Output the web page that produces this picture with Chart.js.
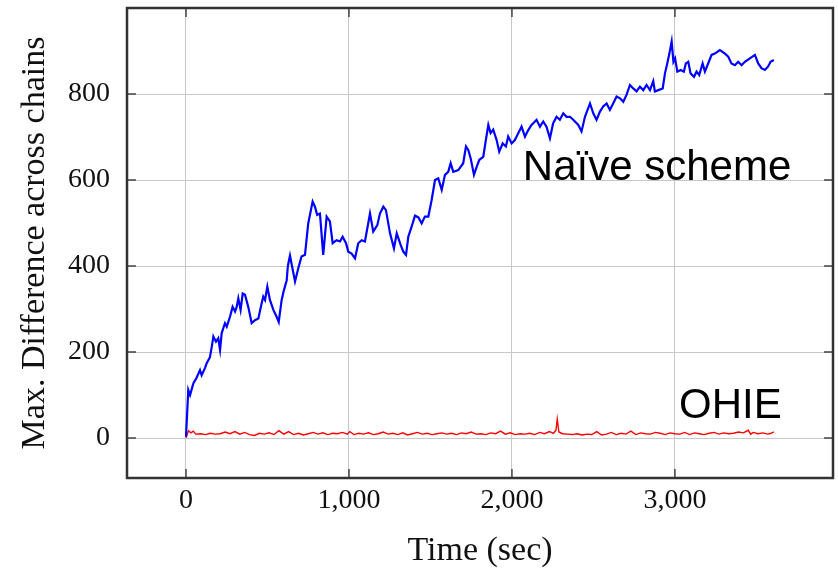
<!DOCTYPE html>
<html>
<head>
<meta charset="utf-8">
<script src="https://cdn.jsdelivr.net/npm/chart.js@4.4.1/dist/chart.umd.min.js"></script>
<style>
  body { margin: 0; background: #fff; }
  canvas { display: block; }
</style>
</head>
<body>
<canvas id="chart" width="838" height="571"></canvas>
<script>
// Naive scheme: max difference across chains
const naiveTimes = [0, 14, 25, 45, 65, 86, 96, 117, 127, 147, 158, 168, 184, 198, 209, 219, 239, 250, 270, 286,
  301, 311, 321, 335, 348, 362, 382, 403, 423, 444, 464, 474, 485, 499, 515, 536, 556, 569, 587, 601,
  618, 625, 638, 669, 689, 709, 730, 750, 777, 791, 805, 822, 842, 863, 883, 900, 924, 945, 961, 982,
  996, 1016, 1037, 1057, 1078, 1098, 1129, 1149, 1174, 1190, 1211, 1227, 1252, 1276, 1293, 1317, 1334, 1350, 1364, 1385,
  1405, 1426, 1446, 1466, 1487, 1507, 1528, 1548, 1569, 1589, 1609, 1624, 1640, 1671, 1701, 1718, 1732, 1747, 1767, 1784,
  1800, 1824, 1840, 1855, 1869, 1885, 1906, 1922, 1943, 1963, 1977, 1998, 2018, 2039, 2059, 2080, 2100, 2120, 2131, 2151,
  2172, 2192, 2212, 2233, 2253, 2274, 2294, 2315, 2335, 2356, 2376, 2407, 2427, 2448, 2468, 2479, 2499, 2519, 2540, 2560,
  2581, 2601, 2621, 2642, 2663, 2683, 2703, 2724, 2744, 2765, 2785, 2806, 2826, 2847, 2867, 2877, 2898, 2925, 2939, 2953,
  2966, 2980, 2991, 3001, 3015, 3035, 3055, 3067, 3082, 3096, 3117, 3133, 3149, 3170, 3184, 3204, 3225, 3245, 3276, 3307,
  3327, 3347, 3368, 3388, 3409, 3429, 3460, 3491, 3511, 3531, 3552, 3572, 3587, 3607];
const naiveValues = [3, 112, 100, 127, 140, 158, 146, 163, 174, 188, 212, 236, 224, 232, 205, 244, 267, 259, 282, 305,
  294, 305, 325, 298, 336, 333, 305, 267, 274, 278, 313, 329, 321, 352, 321, 298, 282, 270, 321, 344,
  367, 400, 424, 364, 395, 422, 426, 499, 550, 538, 519, 522, 426, 515, 504, 453, 460, 457, 468, 453,
  433, 429, 418, 453, 460, 457, 522, 480, 495, 522, 538, 530, 476, 441, 476, 449, 433, 426, 468, 492,
  517, 513, 499, 515, 515, 553, 600, 604, 577, 612, 619, 639, 619, 623, 639, 678, 670, 650, 612, 631,
  647, 654, 693, 728, 709, 717, 693, 666, 685, 678, 701, 685, 693, 709, 724, 701, 716, 728, 732, 740,
  724, 736, 724, 697, 732, 747, 740, 755, 747, 747, 740, 728, 713, 747, 767, 778, 755, 740, 759, 771,
  778, 763, 778, 794, 790, 782, 798, 821, 813, 806, 817, 809, 821, 809, 830, 806, 809, 813, 848, 871,
  894, 922, 875, 883, 852, 856, 852, 871, 875, 848, 840, 852, 844, 871, 852, 871, 891, 894, 902, 894,
  887, 871, 867, 875, 867, 875, 883, 891, 871, 860, 856, 864, 875, 879];

// OHIE
const ohieTimes = [0, 15, 30, 45, 60, 90, 120, 150, 180, 210, 240, 270, 300, 330, 360, 390, 420, 450, 480, 510,
  540, 570, 600, 630, 660, 690, 720, 750, 780, 810, 840, 870, 900, 930, 960, 990, 1005, 1030, 1060, 1090,
  1120, 1150, 1180, 1210, 1240, 1270, 1300, 1330, 1360, 1390, 1420, 1450, 1480, 1510, 1540, 1570, 1600, 1630, 1660, 1690,
  1720, 1750, 1780, 1810, 1840, 1870, 1900, 1930, 1960, 1990, 2020, 2050, 2080, 2110, 2140, 2170, 2200, 2230, 2255, 2270,
  2278, 2288, 2310, 2340, 2370, 2400, 2430, 2460, 2490, 2520, 2550, 2580, 2610, 2640, 2670, 2700, 2730, 2760, 2790, 2820,
  2850, 2880, 2910, 2940, 2970, 3000, 3030, 3060, 3090, 3120, 3150, 3180, 3210, 3240, 3270, 3300, 3330, 3360, 3390, 3420,
  3450, 3465, 3480, 3510, 3540, 3570, 3590, 3607];
const ohieValues = [0, 17, 12, 16, 9, 10, 8, 11, 9, 10, 14, 10, 15, 9, 13, 8, 6, 11, 9, 12,
  8, 17, 9, 15, 8, 11, 7, 10, 13, 9, 12, 8, 11, 10, 13, 9, 15, 8, 11, 9,
  12, 8, 10, 14, 9, 11, 8, 12, 7, 10, 13, 9, 11, 8, 10, 12, 9, 11, 8, 12,
  10, 14, 9, 10, 8, 12, 10, 16, 9, 12, 8, 10, 9, 11, 8, 13, 10, 15, 11, 18,
  44, 14, 10, 9, 8, 10, 7, 9, 8, 15, 7, 9, 13, 8, 11, 9, 16, 8, 12, 10,
  9, 13, 11, 8, 12, 10, 9, 13, 8, 12, 10, 8, 11, 13, 9, 12, 10, 11, 14, 12,
  18, 9, 13, 10, 12, 9, 11, 14];

const xTicks = [0, 1000, 2000, 3000];
const yTicks = [0, 200, 400, 600, 800];

const serif = '"Liberation Serif", "Times New Roman", serif';

function toPoints(times, values) {
  return times.map((t, i) => ({ x: t, y: values[i] }));
}

// box around the plot, inner ticks and the two text labels
const framePlugin = {
  id: 'framePlugin',
  afterDraw(chart) {
    const { ctx, chartArea: a, scales: { x, y } } = chart;
    ctx.save();
    ctx.strokeStyle = '#444';
    ctx.lineWidth = 1.5;
    ctx.beginPath();
    xTicks.forEach(v => {
      const px = x.getPixelForValue(v);
      ctx.moveTo(px, a.bottom); ctx.lineTo(px, a.bottom - 9);
      ctx.moveTo(px, a.top); ctx.lineTo(px, a.top + 9);
    });
    yTicks.forEach(v => {
      const py = y.getPixelForValue(v);
      ctx.moveTo(a.left, py); ctx.lineTo(a.left + 9, py);
      ctx.moveTo(a.right, py); ctx.lineTo(a.right - 9, py);
    });
    ctx.stroke();
    ctx.lineWidth = 2.5;
    ctx.strokeStyle = '#333';
    ctx.strokeRect(a.left, a.top, a.width, a.height);

    ctx.fillStyle = '#000';
    ctx.font = '42px "Liberation Sans", Arial, sans-serif';
    ctx.textBaseline = 'alphabetic';
    ctx.fillText('Naïve scheme', x.getPixelForValue(2067), y.getPixelForValue(600));
    ctx.fillText('OHIE', x.getPixelForValue(3025), y.getPixelForValue(46));
    ctx.restore();
  }
};

new Chart(document.getElementById('chart'), {
  type: 'line',
  data: {
    datasets: [
      {
        label: 'Naïve scheme',
        data: toPoints(naiveTimes, naiveValues),
        borderColor: '#0000ff',
        borderWidth: 2.2,
        pointRadius: 0,
        tension: 0,
        fill: false,
      },
      {
        label: 'OHIE',
        data: toPoints(ohieTimes, ohieValues),
        borderColor: '#ff0000',
        borderWidth: 1.4,
        pointRadius: 0,
        tension: 0,
        fill: false,
      },
    ],
  },
  options: {
    responsive: false,
    animation: false,
    layout: { padding: { left: 0, top: 8, right: 5, bottom: 0 } },
    plugins: {
      legend: { display: false },
      tooltip: { enabled: false },
    },
    scales: {
      x: {
        type: 'linear',
        min: -362,
        max: 3970,
        afterBuildTicks: s => { s.ticks = xTicks.map(v => ({ value: v })); },
        afterFit: s => { s.height = 93; s.paddingLeft = 0; s.paddingRight = 0; },
        grid: { color: '#c8c8c8', lineWidth: 1, drawTicks: false },
        border: { display: false },
        ticks: {
          padding: 6,
          color: '#111',
          font: { family: serif, size: 28 },
          maxRotation: 0,
          callback: v => v.toLocaleString('en-US'),
        },
        title: {
          display: true,
          text: 'Time (sec)',
          color: '#111',
          font: { family: serif, size: 34 },
          padding: { top: 0, bottom: 0 },
        },
      },
      y: {
        type: 'linear',
        min: -93,
        max: 1000,
        afterBuildTicks: s => { s.ticks = yTicks.map(v => ({ value: v })); },
        afterFit: s => { s.width = 127; s.paddingTop = 0; s.paddingBottom = 0; },
        grid: { color: '#c8c8c8', lineWidth: 1, drawTicks: false },
        border: { display: false },
        ticks: {
          padding: 17,
          color: '#111',
          font: { family: serif, size: 28 },
        },
        title: {
          display: true,
          text: 'Max. Difference across chains',
          color: '#111',
          font: { family: serif, size: 34 },
          padding: { top: 15, bottom: 0 },
        },
      },
    },
  },
  plugins: [framePlugin],
});
</script>
</body>
</html>
